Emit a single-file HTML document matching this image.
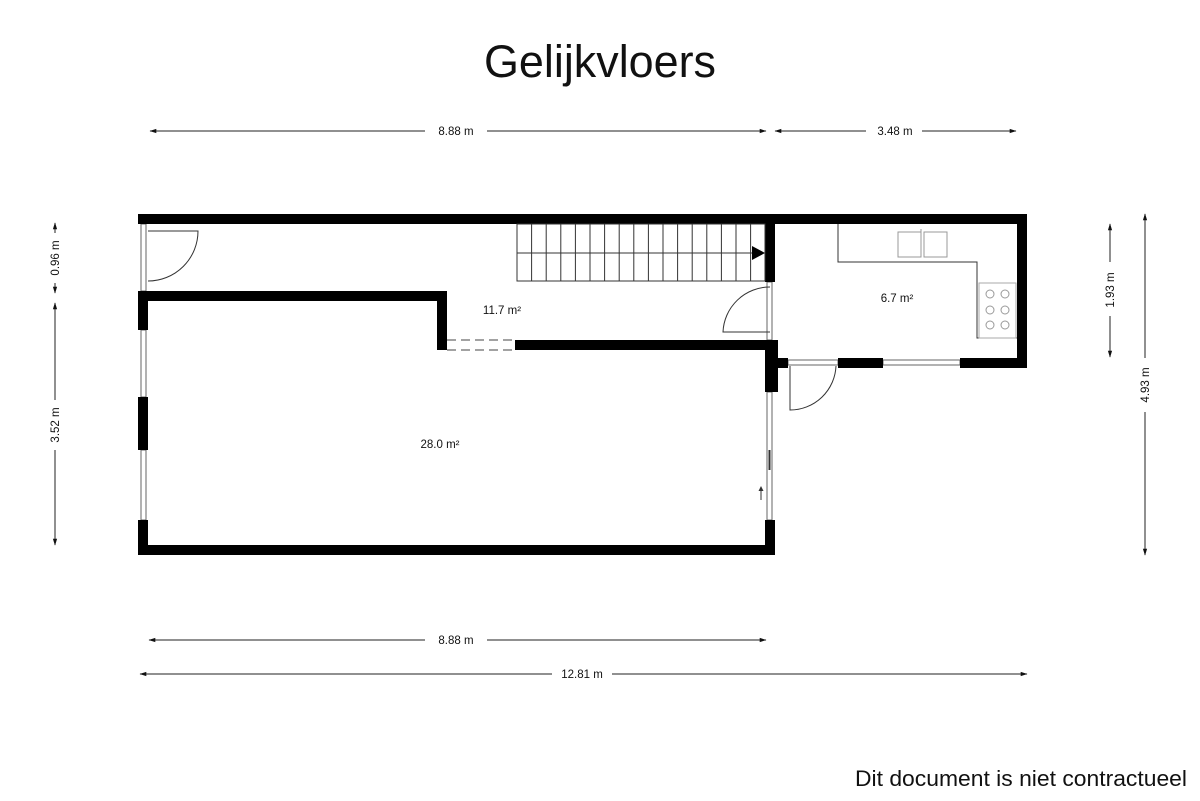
<!DOCTYPE html>
<html><head><meta charset="utf-8"><style>
html,body{margin:0;padding:0;background:#fff}
svg{display:block}
text{font-family:"Liberation Sans",sans-serif;fill:#111}
</style></head><body>
<svg width="1200" height="801" viewBox="0 0 1200 801" xmlns="http://www.w3.org/2000/svg">
<defs>
<marker id="a" viewBox="0 0 10 10" refX="9" refY="5" markerWidth="7" markerHeight="7" orient="auto-start-reverse"><path d="M0,2 L10,5 L0,8 z" fill="#111"/></marker>
</defs>
<rect width="1200" height="801" fill="#fff"/>
<text x="484" y="77" font-size="45" textLength="232" lengthAdjust="spacingAndGlyphs">Gelijkvloers</text>
<text x="855" y="786" font-size="22" textLength="332" lengthAdjust="spacingAndGlyphs">Dit document is niet contractueel</text>

<g stroke="#222" stroke-width="1" fill="none">
<line x1="150" y1="131" x2="425" y2="131" marker-start="url(#a)"/>
<line x1="487" y1="131" x2="766" y2="131" marker-end="url(#a)"/>
<line x1="775" y1="131" x2="866" y2="131" marker-start="url(#a)"/>
<line x1="922" y1="131" x2="1016" y2="131" marker-end="url(#a)"/>
<line x1="149" y1="640" x2="425" y2="640" marker-start="url(#a)"/>
<line x1="487" y1="640" x2="766" y2="640" marker-end="url(#a)"/>
<line x1="140" y1="674" x2="552" y2="674" marker-start="url(#a)"/>
<line x1="612" y1="674" x2="1027" y2="674" marker-end="url(#a)"/>
<line x1="55" y1="223" x2="55" y2="233" marker-start="url(#a)"/>
<line x1="55" y1="283" x2="55" y2="293" marker-end="url(#a)"/>
<line x1="55" y1="303" x2="55" y2="400" marker-start="url(#a)"/>
<line x1="55" y1="450" x2="55" y2="545" marker-end="url(#a)"/>
<line x1="1110" y1="224" x2="1110" y2="262" marker-start="url(#a)"/>
<line x1="1110" y1="316" x2="1110" y2="357" marker-end="url(#a)"/>
<line x1="1145" y1="214" x2="1145" y2="358" marker-start="url(#a)"/>
<line x1="1145" y1="412" x2="1145" y2="555" marker-end="url(#a)"/>
</g>
<g font-size="11.5">
<text x="456" y="135" text-anchor="middle">8.88 m</text>
<text x="895" y="135" text-anchor="middle">3.48 m</text>
<text x="456" y="644" text-anchor="middle">8.88 m</text>
<text x="582" y="678" text-anchor="middle">12.81 m</text>
<text transform="translate(59,258) rotate(-90)" text-anchor="middle">0.96 m</text>
<text transform="translate(59,425) rotate(-90)" text-anchor="middle">3.52 m</text>
<text transform="translate(1114,290) rotate(-90)" text-anchor="middle">1.93 m</text>
<text transform="translate(1149,385) rotate(-90)" text-anchor="middle">4.93 m</text>
<text x="502" y="314" text-anchor="middle">11.7 m²</text>
<text x="897" y="302" text-anchor="middle">6.7 m²</text>
<text x="440" y="448" text-anchor="middle">28.0 m²</text>
</g>

<g fill="#fff" stroke="#666" stroke-width="1">
<rect x="141" y="224" width="5" height="67"/>
<rect x="141" y="330" width="5" height="67"/>
<rect x="141" y="450" width="5" height="70"/>
<rect x="767" y="282" width="5" height="58"/>
<rect x="767" y="392" width="5" height="128"/>
<rect x="788" y="360" width="50" height="5"/>
<rect x="883" y="360" width="77" height="5"/>
</g>
<g stroke="#444" stroke-width="1" stroke-dasharray="9,5" fill="none">
<line x1="447" y1="340" x2="515" y2="340"/>
<line x1="447" y1="350" x2="515" y2="350"/>
</g>

<g fill="#000">
<rect x="138" y="214" width="889" height="10"/>
<rect x="1017" y="214" width="10" height="154"/>
<rect x="960" y="358" width="67" height="10"/>
<rect x="838" y="358" width="45" height="10"/>
<rect x="765" y="358" width="23" height="10"/>
<rect x="765" y="340" width="13" height="52"/>
<rect x="765" y="214" width="10" height="68"/>
<rect x="515" y="340" width="260" height="10"/>
<rect x="437" y="291" width="10" height="59"/>
<rect x="138" y="291" width="309" height="10"/>
<rect x="138" y="291" width="10" height="39"/>
<rect x="138" y="397" width="10" height="53"/>
<rect x="138" y="520" width="10" height="35"/>
<rect x="138" y="545" width="637" height="10"/>
<rect x="765" y="520" width="10" height="35"/>
</g>

<g stroke="#333" stroke-width="1" fill="none">
<rect x="517" y="224" width="248" height="57"/>
<line x1="517" y1="253" x2="752" y2="253"/>
<path d="M531.6 224V281M546.2 224V281M560.8 224V281M575.4 224V281M590 224V281M604.6 224V281M619.2 224V281M633.8 224V281M648.4 224V281M663 224V281M677.6 224V281M692.2 224V281M706.8 224V281M721.4 224V281M736 224V281M750.6 224V281"/>
</g>
<path d="M752 246 L765 253 L752 260 z" fill="#000"/>

<g stroke="#333" stroke-width="1" fill="none">
<path d="M148 231 H198 A50 50 0 0 1 148 281"/>
<path d="M770 287 A47 47 0 0 0 723 332 H770"/>
<path d="M790 366 V410 A46 46 0 0 0 836 366"/>
<line x1="761" y1="500" x2="761" y2="488"/>
<line x1="769.5" y1="450" x2="769.5" y2="470" stroke-width="2"/>
</g>
<path d="M758.5 491 L761 486 L763.5 491 z" fill="#333"/>

<g stroke="#333" stroke-width="1" fill="none">
<path d="M838 224 V262 H977 V338 H1017"/>
<rect x="979" y="283" width="37" height="55" stroke="#aaa"/>
<g stroke="#999">
<circle cx="990" cy="294" r="4"/><circle cx="1005" cy="294" r="4"/>
<circle cx="990" cy="310" r="4"/><circle cx="1005" cy="310" r="4"/>
<circle cx="990" cy="325" r="4"/><circle cx="1005" cy="325" r="4"/>
<rect x="898" y="232" width="23" height="25"/>
<rect x="924" y="232" width="23" height="25"/>
<line x1="921" y1="229" x2="921" y2="240"/>
</g>
</g>
</svg>
</body></html>
